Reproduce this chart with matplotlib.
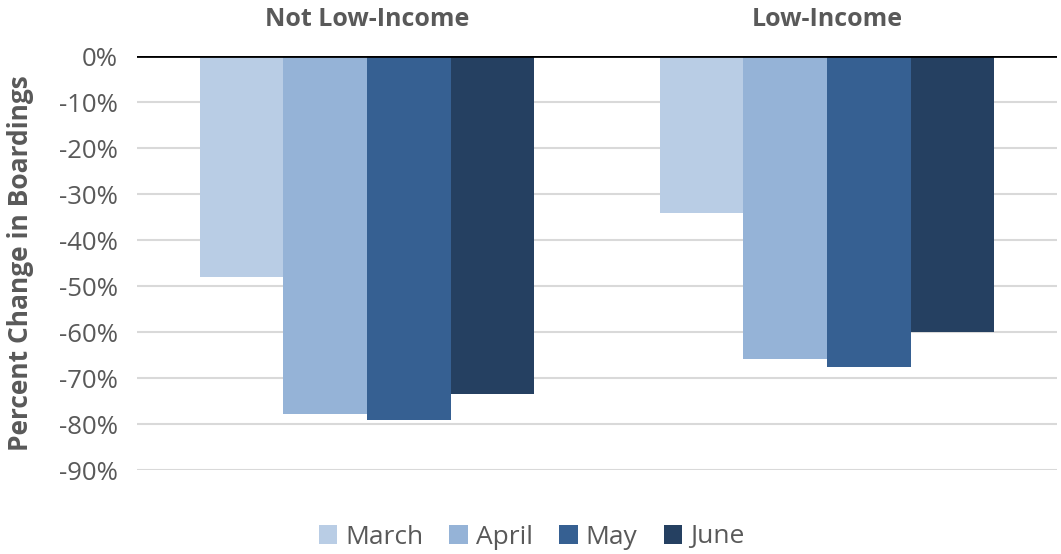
import numpy as np
import matplotlib
matplotlib.use("Agg")
import matplotlib.pyplot as plt

groups = ["Not Low-Income", "Low-Income"]
months = ["March", "April", "May", "June"]
march = [-48.0, -34.1]
april = [-77.8, -65.9]
may = [-79.1, -67.6]
june = [-73.5, -60.1]
colors = ["#B9CDE5", "#95B3D7", "#366092", "#254061"]
yticks = [0, -10, -20, -30, -40, -50, -60, -70, -80, -90]

plt.rcParams['font.family'] = ['Open Sans', 'DejaVu Sans']
text_color = "#595959"

fig = plt.figure(figsize=(10.61, 5.54), dpi=100)
ax = fig.add_axes([137/1061, 1 - 470/554, 920/1061, 414/554])

x = np.arange(len(groups))
width = 0.182
series = [march, april, may, june]
for i, (vals, name) in enumerate(zip(series, months)):
    ax.bar(x + (i - 1.5) * width, vals, width, color=colors[i], label=name, zorder=3)

ax.set_xlim(-0.5, 1.5)
ax.set_ylim(-90, 0)
ax.set_yticks(yticks)
ax.set_yticklabels([f"{v}%" for v in yticks], fontsize=18.5, color=text_color)
ax.yaxis.grid(True, color="#D9D9D9", linewidth=1.5, zorder=0)
ax.axhline(0, color="black", linewidth=2, zorder=4)

ax.xaxis.tick_top()
ax.set_xticks(x)
ax.set_xticklabels(groups, fontsize=18, fontweight='bold', color=text_color)
ax.tick_params(axis='x', length=0, pad=17)
ax.tick_params(axis='y', length=0, pad=14)

for s in ax.spines.values():
    s.set_visible(False)

ax.set_ylabel("Percent Change in Boardings", fontsize=19, fontweight='bold',
              color=text_color)
ax.yaxis.set_label_coords(-103/920, 0.5)

leg = fig.legend(loc='center', bbox_to_anchor=(0.5 + 1/1061, 1 - 537/554), ncol=4,
                 frameon=False, fontsize=19, handlelength=0.7, handleheight=0.7,
                 handletextpad=0.3, columnspacing=1.0)
for t in leg.get_texts():
    t.set_color(text_color)

fig.savefig("out.png", dpi=100)
